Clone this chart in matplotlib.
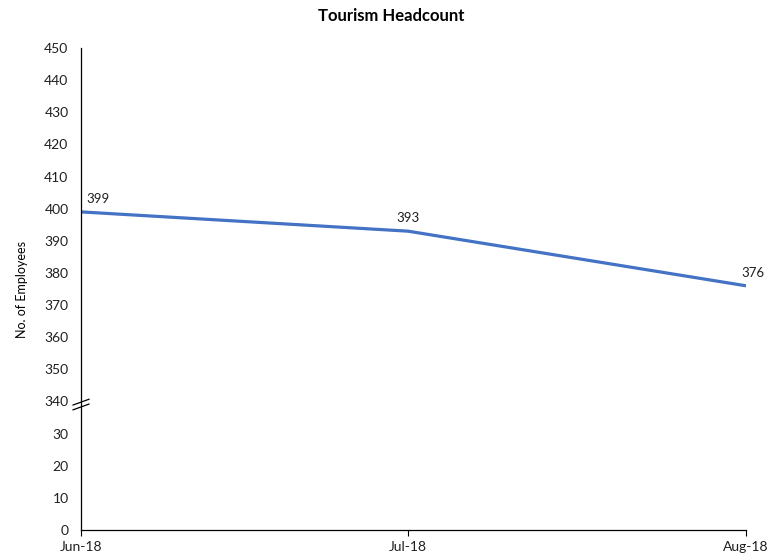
import numpy as np
import pandas as pd
import matplotlib.pyplot as plt
import matplotlib.dates as mdates

months = ["Jun-18", "Jul-18", "Aug-18"]
employees = [399, 393, 376]
yticks = [0, 10, 20, 30, 340, 350, 360, 370, 380, 390, 400, 410, 420, 430, 440, 450]

plt.rcParams['font.family'] = ['Lato', 'DejaVu Sans']

# broken axis: compress the gap between 35 and 340
def fwd(v):
    v = np.asarray(v, dtype=float)
    return np.where(v >= 340, v - 300, v)

def inv(y):
    y = np.asarray(y, dtype=float)
    return np.where(y >= 40, y + 300, y)

dates = pd.to_datetime(months, format="%b-%y")

fig = plt.figure(figsize=(7.82, 5.55), dpi=100)
ax = fig.add_axes([0.1036, 0.045, 0.954 - 0.1036, 0.9135 - 0.045])
ax.set_yscale('function', functions=(fwd, inv))

ax.plot(dates, employees, color='#4472C4', linewidth=2.3, solid_capstyle='butt')

offsets = [(12, 5), (0, 5), (5, 5)]
for d, v, off in zip(dates, employees, offsets):
    ax.annotate(str(v), (d, v), xytext=off, textcoords='offset points',
                ha='center', va='bottom', fontsize=9.5, color='#202020')

ax.set_xlim(dates[0], dates[-1])
ax.set_ylim(0, 450)
ax.set_xticks(dates)
ax.xaxis.set_major_formatter(mdates.DateFormatter('%b-%y'))
ax.set_yticks(yticks)
ax.set_yticklabels([str(t) for t in yticks])
ax.tick_params(axis='y', length=0, pad=9, labelsize=10, labelcolor='#202020')
ax.tick_params(axis='x', length=4, width=0.8, pad=4, labelsize=10, labelcolor='#202020')

for s in ['top', 'right']:
    ax.spines[s].set_visible(False)
ax.spines['left'].set_linewidth(0.9)
ax.spines['bottom'].set_linewidth(0.9)

# break marks on the y axis, just below 340
yb = 38.3 / 150
for dy in (0.0, 0.01):
    ax.plot([-0.012, 0.012], [yb - 0.006 + dy, yb + 0.006 + dy], transform=ax.transAxes,
            color='black', linewidth=0.9, clip_on=False)

ax.set_ylabel("No. of Employees", fontsize=9, labelpad=12)
fig.suptitle("Tourism Headcount", fontsize=12, fontweight='bold', y=0.985)

fig.savefig("out.png", dpi=100)
